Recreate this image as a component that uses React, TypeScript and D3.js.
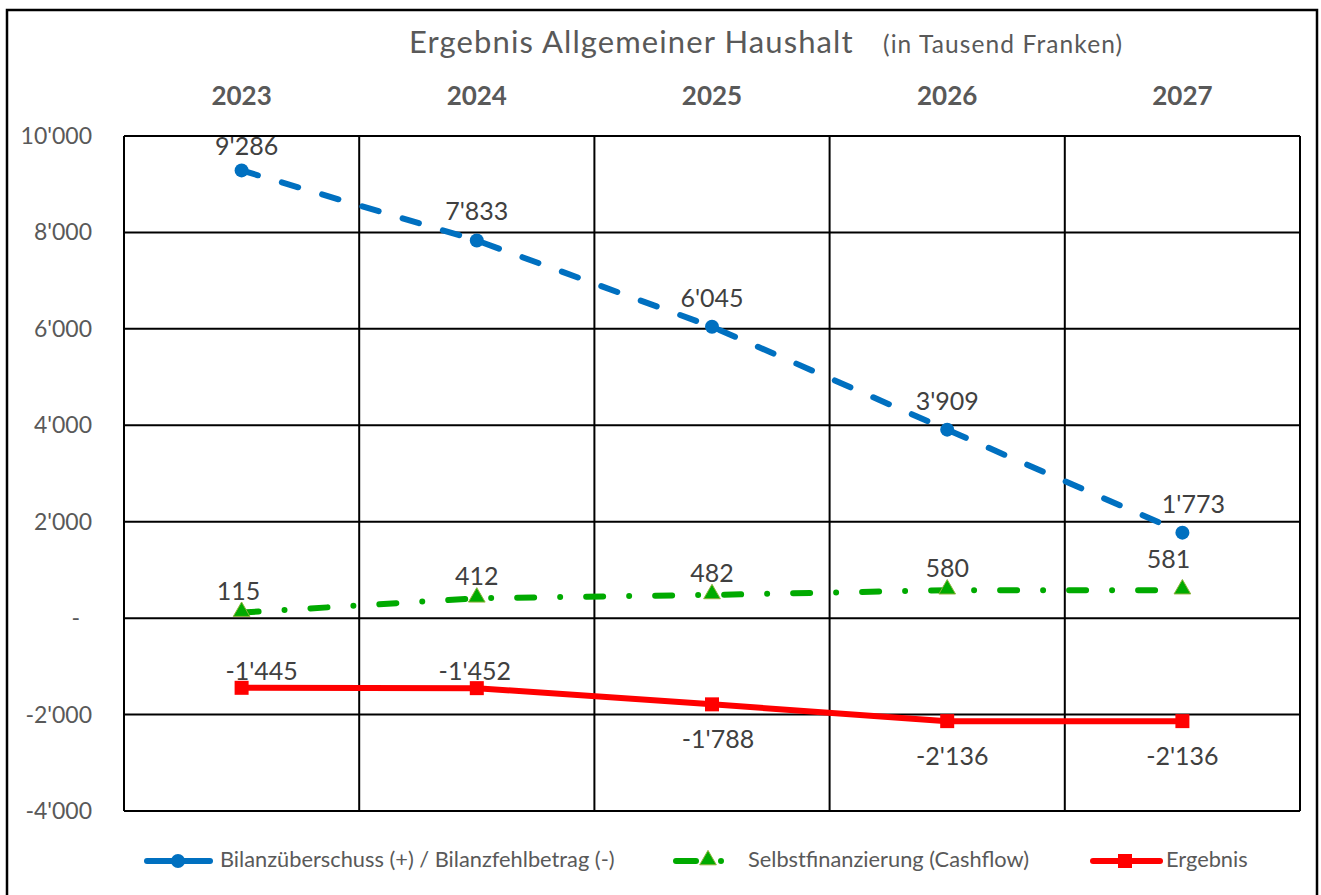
import React from 'react';
import * as d3 from 'd3';

const years = ['2023', '2024', '2025', '2026', '2027'];
const bilanz = [9286, 7833, 6045, 3909, 1773];
const cashflow = [115, 412, 482, 580, 581];
const ergebnis = [-1445, -1452, -1788, -2136, -2136];
const yTicks = [-4000, -2000, 0, 2000, 4000, 6000, 8000, 10000];
const yTickLabels = ["-4'000", "-2'000", '-', "2'000", "4'000", "6'000", "8'000", "10'000"];
const legendLabels = [
    'Bilanzüberschuss (+) / Bilanzfehlbetrag (-)',
    'Selbstfinanzierung (Cashflow)',
    'Ergebnis'
];

const FONT = "Lato, 'Open Sans', sans-serif";
const BLUE = '#0070C0';
const GREEN = '#00AA00';
const RED = '#FF0000';

const fmt = (v: number) => d3.format(',')(v).replace(/,/g, "'").replace('−', '-');

export default function App() {
    const width = 1321, height = 895;
    const left = 124, right = 1300, top = 136, bottom = 811;

    const x = d3.scaleBand().domain(years).range([left, right]);
    const cx = (i: number) => (x(years[i]) as number) + x.bandwidth() / 2;
    const y = d3.scaleLinear().domain([-4000, 10000]).range([bottom, top]);

    const line = d3.line<number>()
        .x((d, i) => cx(i))
        .y(d => y(d));

    const tri = d3.symbol().type(d3.symbolTriangle).size(120)();

    // label nudges, roughly as placed in the original
    const blueDx = [5, 0, 0, 0, 11];
    const greenDx = [-3, 0, 0, 0, -14];
    const redDx = [20, -2, 6, 5, 0];

    const legendY = 861;

    return (
        <svg width={width} height={height} style={{position: 'absolute', left: 0, top: 0, background: '#fff'}}
             fontFamily={FONT}>
            <rect x={7} y={10} width={1310} height={900} fill="#fff" stroke="#000" strokeWidth={2.5}/>

            <text x={409} y={53} fontSize={31} letterSpacing={1.1} fill="#595959">Ergebnis Allgemeiner Haushalt</text>
            <text x={883} y={53} fontSize={24.5} letterSpacing={1.1} fill="#595959">(in Tausend Franken)</text>

            {years.map((yr, i) => (
                <text key={yr} x={cx(i)} y={105} textAnchor="middle" fontSize={26} fontWeight="bold"
                      fill="#595959">{yr}</text>
            ))}

            {/* grid */}
            <g stroke="#000" strokeWidth={2}>
                {yTicks.map(t => (
                    <line key={t} x1={left} x2={right} y1={y(t)} y2={y(t)}/>
                ))}
                {years.map((yr, i) => (
                    <line key={yr} x1={x(yr)} x2={x(yr)} y1={top} y2={bottom}/>
                ))}
                <line x1={right} x2={right} y1={top} y2={bottom}/>
            </g>

            {yTicks.map((t, i) => (
                <text key={t} x={t === 0 ? 80 : 92} y={y(t) + 8} textAnchor="end" fontSize={23}
                      fill="#595959">{yTickLabels[i]}</text>
            ))}

            {/* Ergebnis */}
            <path d={line(ergebnis) || ''} fill="none" stroke={RED} strokeWidth={6}/>
            {ergebnis.map((v, i) => (
                <rect key={i} x={cx(i) - 7} y={y(v) - 7} width={14} height={14} fill={RED}/>
            ))}

            {/* Cashflow */}
            <path d={line(cashflow) || ''} fill="none" stroke={GREEN} strokeWidth={6}
                  strokeDasharray="17 26 0 26" strokeLinecap="round"/>
            {cashflow.map((v, i) => (
                <path key={i} d={tri || ''} transform={`translate(${cx(i)},${y(v) - 1})`} fill={GREEN}
                      stroke="#8DB33A" strokeWidth={1}/>
            ))}

            {/* Bilanz */}
            <path d={line(bilanz) || ''} fill="none" stroke={BLUE} strokeWidth={6}
                  strokeDasharray="17 25" strokeLinecap="round"/>
            {bilanz.map((v, i) => (
                <circle key={i} cx={cx(i)} cy={y(v)} r={7} fill={BLUE}/>
            ))}

            {/* data labels */}
            <g fontSize={25} fill="#404040" textAnchor="middle">
                {bilanz.map((v, i) => (
                    <text key={'b' + i} x={cx(i) + blueDx[i]} y={y(v) - (i === 0 ? 15 : 20)}>{fmt(v)}</text>
                ))}
                {cashflow.map((v, i) => (
                    <text key={'c' + i} x={cx(i) + greenDx[i]} y={y(v) - (i === 4 ? 22 : 13)}>{fmt(v)}</text>
                ))}
                {ergebnis.map((v, i) => (
                    <text key={'e' + i} x={cx(i) + redDx[i]} y={i < 2 ? y(v) - 8 : y(v) + 44}>{fmt(v)}</text>
                ))}
            </g>

            {/* legend */}
            <g fontSize={21.8} fill="#595959">
                <line x1={147} x2={210} y1={legendY} y2={legendY} stroke={BLUE} strokeWidth={6}
                      strokeLinecap="round"/>
                <circle cx={178} cy={legendY} r={7} fill={BLUE}/>
                <text x={220} y={867}>{legendLabels[0]}</text>

                <line x1={676} x2={696} y1={legendY} y2={legendY} stroke={GREEN} strokeWidth={6}
                      strokeLinecap="round"/>
                <path d={tri || ''} transform={`translate(708,${legendY - 1})`} fill={GREEN} stroke="#8DB33A"
                      strokeWidth={1}/>
                <circle cx={721} cy={legendY} r={3} fill={GREEN}/>
                <text x={748} y={867}>{legendLabels[1]}</text>

                <line x1={1093} x2={1160} y1={legendY} y2={legendY} stroke={RED} strokeWidth={6}
                      strokeLinecap="round"/>
                <rect x={1118} y={legendY - 7} width={14} height={14} fill={RED}/>
                <text x={1166} y={867}>{legendLabels[2]}</text>
            </g>
        </svg>
    );
}
